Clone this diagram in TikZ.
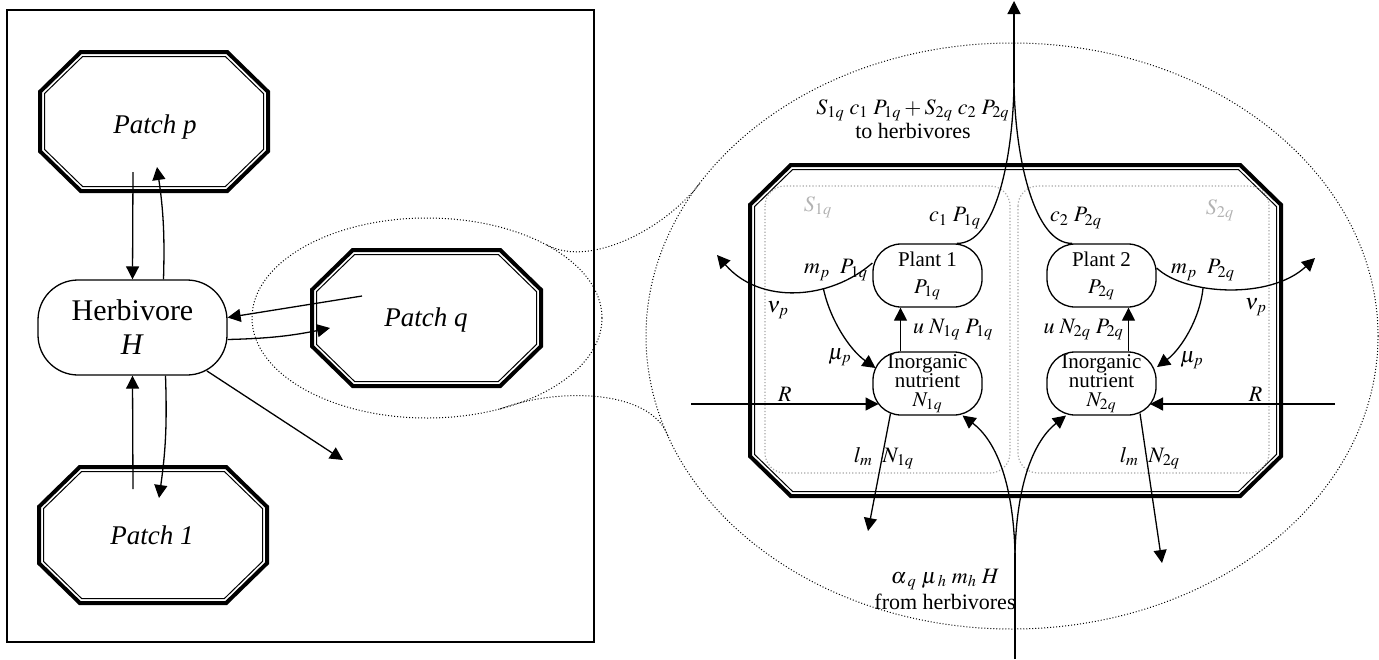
\documentclass[tikz,border=0pt]{standalone}
\usepackage{mathptmx}
\usepackage{fontspec}
\setmainfont{Liberation Serif}
\usetikzlibrary{%
  arrows.meta,%
  calc%
}

\begin{document}
\begin{tikzpicture}[x=0.5pt,y=-0.5pt,>={Triangle[length=6.5pt,width=6.5pt]},line width=0.65pt]
       \tikzset{patchtext/.style={font=\fontsize{13.5}{16}\selectfont\itshape}}

       \tikzset{animal/.style={rectangle, rounded corners=20pt, minimum width=94.5pt,
minimum height=47.5pt, inner sep=0pt, align=center, draw, font=\fontsize{15}{17}\selectfont}}
        \tikzset{plant/.style={rectangle, rounded corners=14pt, minimum width=54.5pt,
minimum height=31.5pt, inner sep=0pt, align=center, draw, font=\fontsize{10.5}{13.5}\selectfont}}
        \tikzset{nutrient/.style={plant, font=\fontsize{10.5}{9.5}\selectfont}}
        \tikzset{rate/.style={inner sep=1pt, align=center, font=\fontsize{11}{10.5}\selectfont}}

        \tikzset{zone/.style={draw=gray!70, densely dotted, line width=0.6pt, rounded corners=10pt}}
        \tikzset{lens/.style={densely dotted, line width=0.5pt}}

        \useasboundingbox (0,0) rectangle (1379,659);

        % landscape of patches
        \draw (7,10) rectangle (594,642);
        \foreach \xa/\ya/\xb/\yb in {38/50/270/193, 37/465/269/605, 310/248/543/388, 748/163/1283/498}
          \foreach \inset/\lw in {2/2pt, 6.5/0.5pt}
            \draw[line width=\lw] (\xa+42+0.4*\inset,\ya+\inset) -- (\xb-42-0.4*\inset,\ya+\inset)
              -- (\xb-\inset,\ya+41+0.4*\inset) -- (\xb-\inset,\yb-41-0.4*\inset)
              -- (\xb-42-0.4*\inset,\yb-\inset) -- (\xa+42+0.4*\inset,\yb-\inset)
              -- (\xa+\inset,\yb-41-0.4*\inset) -- (\xa+\inset,\ya+41+0.4*\inset) -- cycle;

        \node[patchtext] (patchp) at (155,127) {Patch p};
        \node[patchtext] (patchq) at (426,320) {Patch q};
        \node[patchtext] (patch1) at (152,535) {Patch 1};
        \node[animal] (herbivore) at (132.5,327.5) {Herbivore\\\textit{H}};
        \coordinate (emigrate) at (343,460);

        \draw[->] ([shift={(-22,45)}]patchp.center) -- (herbivore.north);
        \draw[->] ([xshift=15.5pt]herbivore.north) to[bend right=5] ([shift={(2,40)}]patchp.center);
        \draw[->] ([shift={(-19,-46)}]patch1.center) -- (herbivore.south);
        \draw[->] ([xshift=16.5pt]herbivore.south) to[bend left=5] ([shift={(7,-37)}]patch1.center);
        \draw[->] ([shift={(-64,-24)}]patchq.center) -- ([yshift=5pt]herbivore.east);
        \draw[->] ([yshift=-6pt]herbivore.east) to[bend right=5] ([shift={(-96,8)}]patchq.center);
        \draw[->] ([shift={(74.5,43.5)}]herbivore.center) -- (emigrate);

        % zoom on patch q
        \draw[lens] (427,318) ellipse [x radius=175, y radius=100];
        \draw[lens] (1012,336) ellipse [x radius=366, y radius=293];
        \draw[lens] (547,245) .. controls (590,268) and (665,229) .. (700,183);
        \draw[lens] (500,409) .. controls (555,388) and (650,388) .. (668,436);

        \draw[zone] (765,186) rectangle (1010,473);
        \draw[zone] (1018,186) rectangle (1269,473);
        \node[rate, text=gray!60] (zone1) at (818,207) {$S_{1q}$};
        \node[rate, text=gray!60] (zone2) at (1220,210) {$S_{2q}$};

        \node[plant] (plant1) at (927.5,275.5) {Plant 1\\$P_{1q}$};
        \node[plant] (plant2) at (1101.5,275.5) {Plant 2\\$P_{2q}$};
        \node[nutrient] (nutrient1) at (927.5,383.5) {Inorganic\\nutrient\\$N_{1q}$};
        \node[nutrient] (nutrient2) at (1101.5,383.5) {Inorganic\\nutrient\\$N_{2q}$};

        \coordinate (grazed) at (1014,83);
        \coordinate (toherbivores) at (1014,1);
        \coordinate (supply1) at (691,404);
        \coordinate (supply2) at (1335,404);
        \coordinate (leach1) at (868,531);
        \coordinate (leach2) at (1162,563);
        \coordinate (fromherbivores) at (1015,659);
        \coordinate (recycled) at (1015,553);

        % uptake
        \draw[->] ([xshift=-13.5pt]nutrient1.north) -- ([xshift=-13.5pt]plant1.south) node [rate,right=5pt,midway]{$u\;N_{1q}\;P_{1q}$};
        \draw[->] ([xshift=13.5pt]nutrient2.north) -- ([xshift=13.5pt]plant2.south) node [rate,left=1pt,midway]{$u\;N_{2q}\;P_{2q}$};

        % grazing
        \draw ([xshift=14.75pt]plant1.north) .. controls (995,244) and (1013,160) .. (grazed);
        \draw ([xshift=-14.75pt]plant2.north) .. controls (1035,244) and (1015,160) .. (grazed);
        \draw[->] (grazed) -- (toherbivores);
        \node[rate] (grazing) at (913,119) {$S_{1q}\;c_1\;P_{1q}+S_{2q}\;c_2\;P_{2q}$\\to herbivores};
        \node[rate] (graze1) at (955,218) {$c_1\;P_{1q}$};
        \node[rate] (graze2) at (1076,218) {$c_2\;P_{2q}$};

        % plant mortality
        \draw[->] ([yshift=6.25pt]plant1.west) .. controls (830,300) and (760,305) .. (717,255) coordinate[pos=0.33] (dead1);
        \draw[->] (dead1) .. controls (830,320) and (850,350) .. ([shift={(-52,-15.5)}]nutrient1.center);
        \node[rate] (mort1) at (836,270) {$m_p\;\;P_{1q}$};
        \node[rate] (nu1) at (778,310) {$\nu_p$};
        \node[rate] (mu1) at (840,357) {$\mu_p$};

        \draw[->] ([yshift=3.75pt]plant2.east) .. controls (1185,295) and (1270,300) .. (1315,258) coordinate[pos=0.35] (dead2);
        \draw[->] (dead2) .. controls (1200,320) and (1180,350) .. ([shift={(55.5,-16.5)}]nutrient2.center);
        \node[rate] (mort2) at (1203,270) {$m_p\;\;P_{2q}$};
        \node[rate] (nu2) at (1256,307) {$\nu_p$};
        \node[rate] (mu2) at (1192,360) {$\mu_p$};

        % supply and leaching
        \draw[->] (supply1) -- ([shift={(-49,20.5)}]nutrient1.center) node [rate,above,midway]{$R$};
        \draw[->] (supply2) -- ([shift={(48.5,20.5)}]nutrient2.center) node [rate,above,pos=0.43]{$R$};
        \draw[->] ([shift={(-37,30)}]nutrient1.center) -- (leach1);
        \draw[->] ([shift={(38.5,30)}]nutrient2.center) -- (leach2);
        \node[rate] (loss1) at (884,458) {$l_m\;\;N_{1q}$};
        \node[rate] (loss2) at (1150,458) {$l_m\;\;N_{2q}$};

        % recycling
        \draw (fromherbivores) -- (recycled);
        \draw[->] (recycled) .. controls (1013,480) and (995,440) .. ([shift={(35,32)}]nutrient1.center);
        \draw[->] (recycled) .. controls (1017,480) and (1035,440) .. ([shift={(-35.5,32)}]nutrient2.center);
        \node[rate, font=\fontsize{11}{13}\selectfont] (recycling) at (945,589) {$\alpha_{\kern1.5pt q}\;\mu_{\kern1.5pt h}\;m_h\;H$\\from herbivores};
   \end{tikzpicture}
\end{document}
